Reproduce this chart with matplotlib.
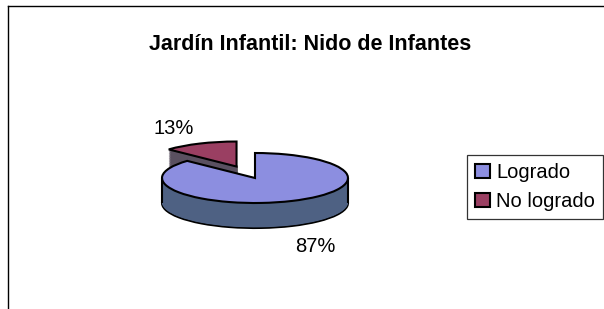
import matplotlib
matplotlib.use("Agg")
import matplotlib.pyplot as plt
from matplotlib.lines import Line2D

categories = ["Logrado", "No logrado"]
values = [87, 13]
pct_labels = ["87%", "13%"]
title = "Jardín Infantil: Nido de Infantes"

top_colors = ["#8c8ee0", "#9a3f62"]
side_colors = ["#4e6183", "#5a5060"]

W, H = 604, 309
fig = plt.figure(figsize=(W / 100, H / 100), dpi=100)
fig.patch.set_facecolor("white")

# pie axes: unit radius -> 93 px horizontally, 25 px vertically; centre at (255,178) px
a_px, b_px = 93, 25
cx, cy = 255, 178
xr, yr = 1.5, 2.5
ax = fig.add_axes([(cx - xr * a_px) / W, (H - cy - yr * b_px) / H,
                   2 * xr * a_px / W, 2 * yr * b_px / H])

depth = 1.0
explode = [0, 0.5]
n = 40
for i in range(n + 1):
    off = -depth * (1 - i / n)
    last_side = (i == 0)
    ax.pie(values, colors=side_colors, startangle=90, counterclock=False,
           explode=explode, center=(0, off), radius=1,
           wedgeprops=dict(edgecolor="black" if last_side else "none",
                           linewidth=1.5 if last_side else 0))
# side vertical outlines
ax.vlines([-1, 1], -depth, 0, colors="black", linewidth=1.5)
# top surface
wedges, _ = ax.pie(values, colors=top_colors, startangle=90, counterclock=False,
                   explode=explode, center=(0, 0), radius=1,
                   wedgeprops=dict(edgecolor="black", linewidth=1.5))
ax.set_aspect("auto")
ax.set_xlim(-xr, xr)
ax.set_ylim(-yr, yr)
ax.axis("off")

font = "Liberation Sans"
fig.text(310 / W, 1 - 45 / H, title, ha="center", va="center",
         fontsize=15.5, fontweight="bold", family=font)
fig.text(174 / W, 1 - 128 / H, pct_labels[1], ha="center", va="center",
         fontsize=14.5, family=font)
fig.text(315 / W, 1 - 246 / H, pct_labels[0], ha="center", va="center",
         fontsize=14.5, family=font)

leg = fig.legend(wedges, categories, loc="upper left",
                 bbox_to_anchor=(467 / W, 1 - 155 / H),
                 prop=dict(family=font, size=14.5), frameon=True, fancybox=False,
                 edgecolor="black", handlelength=0.75, handleheight=0.75,
                 handletextpad=0.3, borderpad=0.4, labelspacing=0.5,
                 borderaxespad=0)
leg.get_frame().set_linewidth(0.9)

# outer frame (only top and left edges are visible in the crop)
fig.add_artist(Line2D([8 / W, 1], [1 - 6 / H, 1 - 6 / H], transform=fig.transFigure,
                      color="black", linewidth=1))
fig.add_artist(Line2D([8 / W, 8 / W], [0, 1 - 6 / H], transform=fig.transFigure,
                      color="black", linewidth=1))

fig.savefig("out.png", dpi=100)
